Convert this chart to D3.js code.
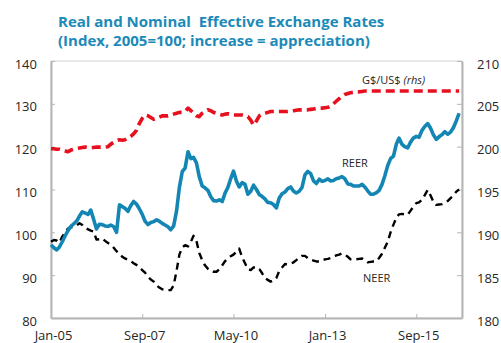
<!DOCTYPE html>
<html>
<head>
<meta charset="utf-8">
<script src="https://cdn.jsdelivr.net/npm/d3@7"></script>
<style>
  html, body { margin: 0; padding: 0; background: #fff; }
  svg { display: block; }
  text { font-family: "Open Sans", "DejaVu Sans", sans-serif; }
</style>
</head>
<body>
<div id="chart"></div>
<script>
// Monthly observations, Jan-2005 to Dec-2016
const firstMonth = new Date(2005, 0, 1);

// Real effective exchange rate (left axis)
const reer = [
  97.1, 96.4, 95.9, 96.6, 97.8, 99.2, 100.4, 101.4, 102.0, 102.6, 103.8, 104.8,
  104.5, 104.2, 105.2, 103.0, 100.8, 101.9, 101.8, 101.5, 101.4, 101.7, 101.3, 100.0,
  106.4, 106.0, 105.6, 104.9, 106.2, 107.2, 106.6, 105.5, 104.2, 102.6, 101.8, 102.3,
  102.5, 102.9, 102.6, 102.1, 101.7, 101.3, 100.6, 101.5, 105.0, 110.5, 114.2, 115.0,
  118.8, 117.2, 117.5, 116.2, 113.0, 110.8, 110.4, 109.8, 108.3, 107.4, 107.3, 107.6,
  107.2, 109.2, 110.4, 112.5, 114.3, 112.0, 110.6, 111.6, 111.2, 108.9, 109.6, 111.0,
  110.0, 108.8, 108.4, 107.8, 107.0, 106.9, 106.5, 105.7, 108.0, 109.0, 109.4, 110.2,
  110.6, 109.6, 109.2, 109.6, 110.5, 113.4, 114.2, 113.7, 112.0, 111.4, 112.4, 111.9,
  112.1, 112.5, 112.0, 112.1, 112.5, 112.7, 113.0, 112.5, 111.3, 111.2, 110.8, 110.8,
  110.8, 111.2, 110.6, 109.7, 108.9, 108.9, 109.2, 109.8, 111.2, 113.2, 115.6, 117.2,
  117.8, 120.6, 122.0, 120.6, 120.0, 119.7, 121.0, 122.0, 122.4, 122.2, 123.8, 124.7,
  125.4, 124.3, 122.8, 121.7, 122.3, 122.8, 123.5, 122.9, 123.4, 124.4, 126.0, 127.8
];

// Nominal effective exchange rate (left axis)
const neer = [
  97.8, 98.2, 98.1, 97.6, 99.0, 100.0, 100.9, 101.2, 101.3, 101.6, 102.1, 101.7,
  101.0, 100.7, 100.4, 100.2, 98.3, 98.4, 98.6, 98.0, 97.5, 97.1, 96.4, 95.6,
  94.9, 94.3, 93.9, 93.6, 93.3, 92.8, 92.4, 91.8, 91.2, 90.6, 89.6, 89.0,
  88.5, 87.6, 87.1, 86.7, 86.6, 86.5, 86.5, 87.6, 91.0, 94.8, 96.5, 97.0,
  96.7, 97.8, 99.2, 98.0, 95.2, 93.5, 92.3, 91.5, 91.0, 90.8, 90.8, 91.4,
  92.3, 93.3, 93.9, 94.4, 94.8, 95.5, 96.2, 94.2, 92.8, 91.4, 91.2, 91.8,
  91.9, 91.4, 90.5, 89.3, 88.9, 88.5, 88.7, 89.3, 91.0, 91.8, 92.6, 92.5,
  92.7, 93.0, 93.5, 94.1, 94.5, 94.5, 94.0, 93.6, 93.4, 93.2, 93.2, 93.5,
  93.7, 93.8, 94.0, 94.3, 94.6, 94.8, 95.1, 94.8, 94.3, 93.7, 93.6, 93.7,
  93.8, 93.9, 93.5, 93.0, 93.1, 93.2, 93.2, 94.0, 95.0, 96.4, 97.8, 100.0,
  101.8, 103.4, 104.2, 104.3, 104.2, 104.1, 105.0, 106.0, 106.8, 107.0, 107.6, 108.7,
  109.9, 108.6, 107.2, 106.4, 106.5, 106.6, 106.9, 107.3, 108.0, 108.6, 109.5, 110.0
];

// G$ per US$ (right axis)
const gyd = [
  199.75, 199.75, 199.7, 199.7, 199.6, 199.5, 199.4, 199.6, 199.7, 199.8, 199.85, 199.9,
  199.95, 199.9, 199.9, 199.9, 199.95, 199.95, 199.95, 199.95, 200.0, 200.3, 200.5, 200.7,
  200.8, 200.75, 200.8, 201.0, 201.2, 201.5, 201.9, 202.7, 203.3, 203.7, 203.6, 203.4,
  203.2, 203.3, 203.45, 203.6, 203.6, 203.6, 203.7, 203.8, 203.9, 204.0, 204.0, 204.1,
  204.5, 204.2, 203.9, 203.6, 203.5, 203.9, 204.1, 204.3, 204.2, 204.0, 203.9, 203.8,
  203.7, 203.8, 203.85, 203.8, 203.7, 203.7, 203.7, 203.7, 203.6, 203.5, 203.1, 202.5,
  203.0, 203.6, 203.8, 203.9, 204.0, 204.1, 204.1, 204.1, 204.1, 204.1, 204.1, 204.1,
  204.15, 204.2, 204.25, 204.3, 204.3, 204.3, 204.3, 204.35, 204.4, 204.45, 204.5, 204.5,
  204.55, 204.6, 204.75, 205.0, 205.3, 205.6, 205.9, 206.1, 206.2, 206.3, 206.35, 206.4,
  206.4, 206.45, 206.5, 206.5, 206.5, 206.5, 206.5, 206.5, 206.5, 206.5, 206.5, 206.5,
  206.5, 206.5, 206.5, 206.5, 206.5, 206.5, 206.5, 206.5, 206.5, 206.5, 206.5, 206.5,
  206.5, 206.5, 206.5, 206.5, 206.5, 206.5, 206.5, 206.5, 206.5, 206.5, 206.5, 206.5
];

const leftTicks = [80, 90, 100, 110, 120, 130, 140];
const rightTicks = [180, 185, 190, 195, 200, 205, 210];
const xTickLabels = ["Jan-05", "Sep-07", "May-10", "Jan-13", "Sep-15"];

const titleLines = [
  "Real and Nominal\u00a0 Effective Exchange Rates",
  "(Index, 2005=100; increase = appreciation)"
];

const W = 501, H = 343;
const plot = { left: 51, right: 462, top: 61, bottom: 318 };

const months = reer.map((_, i) => d3.timeMonth.offset(firstMonth, i));

const x = d3.scaleTime()
  .domain([firstMonth, d3.timeMonth.offset(firstMonth, 144)])
  .range([plot.left, plot.right]);
const yL = d3.scaleLinear().domain([80, 140]).range([plot.bottom, plot.top]);
const yR = d3.scaleLinear().domain([180, 210]).range([plot.bottom, plot.top]);

const svg = d3.select("#chart").append("svg")
  .attr("width", W).attr("height", H);

// Title
const title = svg.append("g").attr("fill", "#1b8ab8")
  .attr("font-weight", "bold").attr("font-size", 15);
titleLines.forEach((t, i) => {
  title.append("text").attr("x", 58).attr("y", 27 + i * 19).text(t);
});

// Plot frame
const axisColor = "#b5b5b5";
svg.append("rect")
  .attr("x", plot.left).attr("y", plot.top)
  .attr("width", plot.right - plot.left).attr("height", plot.bottom - plot.top)
  .attr("fill", "none").attr("stroke", "#d4d4d4").attr("stroke-width", 1);

// Axes
const tickFont = g => g.selectAll("text")
  .attr("font-family", "\"Open Sans\", sans-serif")
  .attr("font-size", 13).attr("fill", "#262626");
const styleDomain = g => {
  g.select(".domain").attr("stroke", axisColor).attr("stroke-width", 2);
  g.selectAll(".tick line").attr("stroke", axisColor).attr("stroke-width", 1);
};

const tickDates = xTickLabels.map((_, i) => d3.timeMonth.offset(firstMonth, i * 32));
svg.append("g")
  .attr("transform", `translate(0,${plot.bottom})`)
  .call(d3.axisBottom(x).tickValues(tickDates)
    .tickFormat((d, i) => xTickLabels[i])
    .tickSizeInner(-4).tickSizeOuter(0).tickPadding(13))
  .call(styleDomain).call(tickFont)
  .selectAll("text").attr("dx", 2);

svg.append("g")
  .attr("transform", `translate(${plot.left},0)`)
  .call(d3.axisLeft(yL).tickValues(leftTicks)
    .tickSizeInner(-4).tickSizeOuter(0).tickPadding(14))
  .call(styleDomain).call(tickFont)
  .selectAll("text").attr("dy", "0.55em");

svg.append("g")
  .attr("transform", `translate(${plot.right},0)`)
  .call(d3.axisRight(yR).tickValues(rightTicks)
    .tickSizeInner(-5).tickSizeOuter(0).tickPadding(15))
  .call(styleDomain).call(tickFont)
  .selectAll("text").attr("dy", "0.55em");

// Series lines
const lineL = d3.line().x((d, i) => x(months[i])).y(d => yL(d));
const lineR = d3.line().x((d, i) => x(months[i])).y(d => yR(d));

svg.append("path").datum(gyd)
  .attr("d", lineR).attr("fill", "none")
  .attr("stroke", "#e8101e").attr("stroke-width", 3.6)
  .attr("stroke-dasharray", "9,5").attr("stroke-linejoin", "round");

svg.append("path").datum(neer)
  .attr("d", lineL).attr("fill", "none")
  .attr("stroke", "#000").attr("stroke-width", 2.4)
  .attr("stroke-dasharray", "7,5").attr("stroke-linejoin", "round");

svg.append("path").datum(reer)
  .attr("d", lineL).attr("fill", "none")
  .attr("stroke", "#1486b4").attr("stroke-width", 3.6)
  .attr("stroke-linejoin", "round");

// Series labels
const labels = svg.append("g").attr("font-size", 11).attr("fill", "#262626");
labels.append("text").attr("x", 342).attr("y", 167).text("REER");
labels.append("text").attr("x", 363).attr("y", 282).text("NEER");
const fx = labels.append("text").attr("x", 362).attr("y", 84);
fx.append("tspan").text("G$/US$ ");
fx.append("tspan").attr("font-style", "italic").text("(rhs)");
</script>
</body>
</html>
